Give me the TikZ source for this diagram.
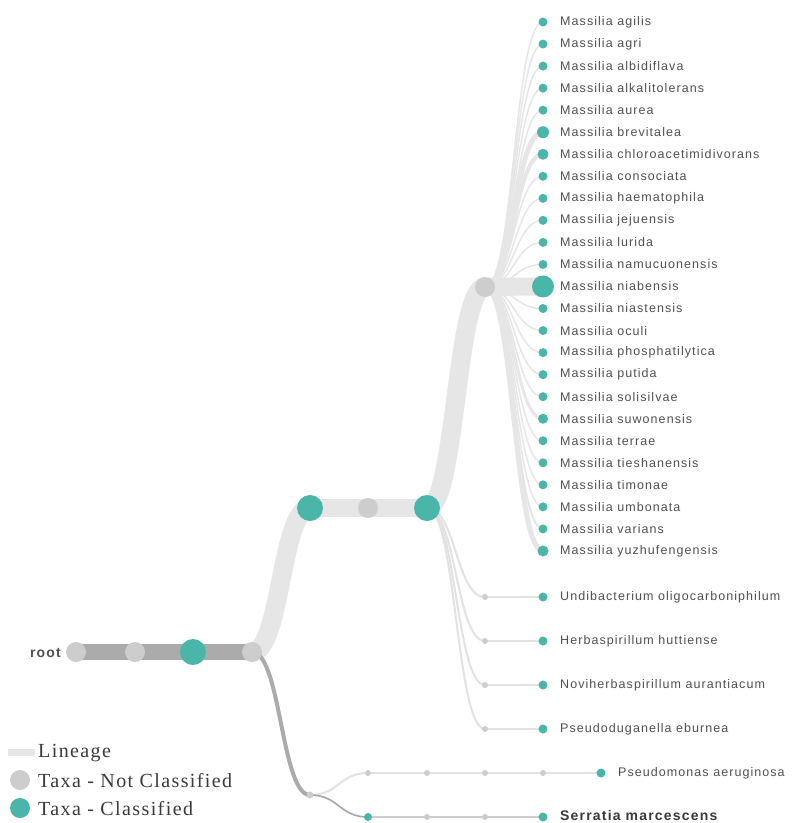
\documentclass[tikz,border=0pt]{standalone}
\usepackage{fontspec}
\setmainfont{Liberation Sans}
\newfontfamily\labelfont[LetterSpace=8.5]{Liberation Sans}
\newfontfamily\legendfont[LetterSpace=7]{Liberation Serif}
\usetikzlibrary{calc}
\definecolor{taxteal}{HTML}{4AB5A9}
\definecolor{taxgray}{HTML}{CDCDCD}
\definecolor{linkgray}{HTML}{E6E6E6}
\definecolor{thinlink}{HTML}{E2E2E2}
\definecolor{rootlink}{HTML}{ABABAB}
\definecolor{serlink}{HTML}{A6A6A6}
\definecolor{labelgray}{HTML}{505050}
\definecolor{legendtext}{HTML}{3A3A3A}
\pgfdeclarelayer{links}
\pgfsetlayers{links,main}
% horizontal tree link: cubic with both control points at half the x distance
\newcommand\treelink[3][]{%
  \draw[#1] (#2.center) .. controls ($(#2.center)!0.5!(#3.center|-#2.center)$)
    and ($(#3.center)!0.5!(#2.center|-#3.center)$) .. (#3.center);}
\tikzset{
  classified/.style={circle, fill=taxteal, inner sep=0pt, minimum size=#1},
  classified/.default=9,
  unclassified/.style={circle, fill=taxgray, inner sep=0pt, minimum size=#1},
  unclassified/.default=6,
  lineage/.style={draw=linkgray, line width=#1},
  lineage/.default=1.5,
  leaflabel/.style={anchor=west, inner sep=0pt, text=labelgray,
    font=\labelfont\fontsize{12.5}{15}\selectfont},
  legendlabel/.style={anchor=west, inner sep=0pt, text=legendtext,
    font=\legendfont\fontsize{20}{22}\selectfont},
}
\begin{document}
\begin{tikzpicture}[x=1pt,y=-1pt]
\useasboundingbox (0,0) rectangle (793,823);
\begin{pgfonlayer}{links}
  \fill[white] (0,0) rectangle (793,823);
\end{pgfonlayer}

% main lineage
\node[unclassified=20] (n0) at (76,652) {};
\node[unclassified=20] (n1) at (135,652) {};
\node[classified=26] (n2) at (193,652) {};
\node[unclassified=20] (n3) at (252,652) {};
\node[classified=26] (n4) at (310,508) {};
\node[unclassified=20] (n5) at (368,508) {};
\node[classified=26] (n6) at (427,508) {};
\node[unclassified=20] (n7) at (485,287) {};
\node[anchor=east, inner sep=0pt, text=labelgray,
  font=\labelfont\fontsize{14}{16}\selectfont\bfseries] (rootlbl) at (61,653) {root};

% Massilia species
\foreach \sp/\d/\w [count=\i] in {
  agilis/9/1.5, agri/9/1.5, albidiflava/9/1.5, alkalitolerans/9/1.5,
  aurea/9/1.5, brevitalea/12/5, chloroacetimidivorans/11/4,
  consociata/9/1.5, haematophila/9/1.5, jejuensis/9/1.5, lurida/9/1.5,
  namucuonensis/9/1.5, niabensis/22/18, niastensis/9/1.5, oculi/9/1.5,
  phosphatilytica/9/1.5, putida/9/1.5, solisilvae/9/1.5,
  suwonensis/10/3, terrae/9/1.5, tieshanensis/9/1.5, timonae/9/1.5,
  umbonata/9/1.5, varians/9/2, yuzhufengensis/11/5} {
  \node[classified=\d] (m\i) at (543,{22+(\i-1)*22.04}) {};
  \node[leaflabel] (mt\i) at (560,{22+(\i-1)*22.04}) {Massilia \sp};
  \begin{pgfonlayer}{links}
    \treelink[lineage=\w]{n7}{m\i}
  \end{pgfonlayer}
}

% other genera below the Massilia clade
\foreach \g/\y [count=\i] in {
  Undibacterium oligocarboniphilum/597, Herbaspirillum huttiense/641,
  Noviherbaspirillum aurantiacum/685, Pseudoduganella eburnea/729} {
  \node[unclassified] (g\i) at (485,\y) {};
  \node[classified] (h\i) at (543,\y) {};
  \node[leaflabel] (ht\i) at (560,\y) {\g};
  \begin{pgfonlayer}{links}
    \treelink[draw=thinlink, line width=2]{n6}{g\i}
    \treelink[draw=thinlink, line width=2]{g\i}{h\i}
  \end{pgfonlayer}
}

% lower branch
\node[unclassified=7] (p0) at (310,795) {};
\node[unclassified] (a1) at (368,773) {};
\node[unclassified] (a2) at (427,773) {};
\node[unclassified] (a3) at (485,773) {};
\node[unclassified] (a4) at (543,773) {};
\node[classified] (a5) at (601,773) {};
\node[leaflabel] (at5) at (618,773) {Pseudomonas aeruginosa};
\node[classified=8] (s1) at (368,817) {};
\node[unclassified] (s2) at (427,817) {};
\node[unclassified] (s3) at (485,817) {};
\node[classified] (s4) at (543,817) {};
\node[leaflabel, text=legendtext, font=\labelfont\fontsize{14}{16}\selectfont\bfseries]
  (st4) at (560,815) {Serratia marcescens};

% legend
\coordinate (lg0) at (8,752);
\coordinate (lg1) at (35,752);
\node[legendlabel] (lgt1) at (38,753) {Lineage};
\node[unclassified=20] (lgc2) at (20,780) {};
\node[legendlabel] (lgt2) at (38,781) {Taxa - Not Classified};
\node[classified=20] (lgc3) at (20,808) {};
\node[legendlabel] (lgt3) at (38,809) {Taxa - Classified};

\begin{pgfonlayer}{links}
  \draw[draw=rootlink, line width=16] (n0.center) -- (n3.center);
  \treelink[lineage=19]{n3}{n4}
  \draw[lineage=18] (n4.center) -- (n5.center) -- (n6.center);
  \treelink[lineage=19]{n6}{n7}
  \treelink[draw=rootlink, line width=4]{n3}{p0}
  \treelink[draw=thinlink, line width=2]{p0}{a1}
  \draw[draw=thinlink, line width=2] (a1.center) -- (a2.center) -- (a3.center)
    -- (a4.center) -- (a5.center);
  \treelink[draw=serlink, line width=1.6]{p0}{s1}
  \draw[draw=taxgray, line width=1.3] (s1.center) -- (s2.center) -- (s3.center)
    -- (s4.center);
  \draw[lineage=7] (lg0) -- (lg1);
\end{pgfonlayer}
\end{tikzpicture}
\end{document}
